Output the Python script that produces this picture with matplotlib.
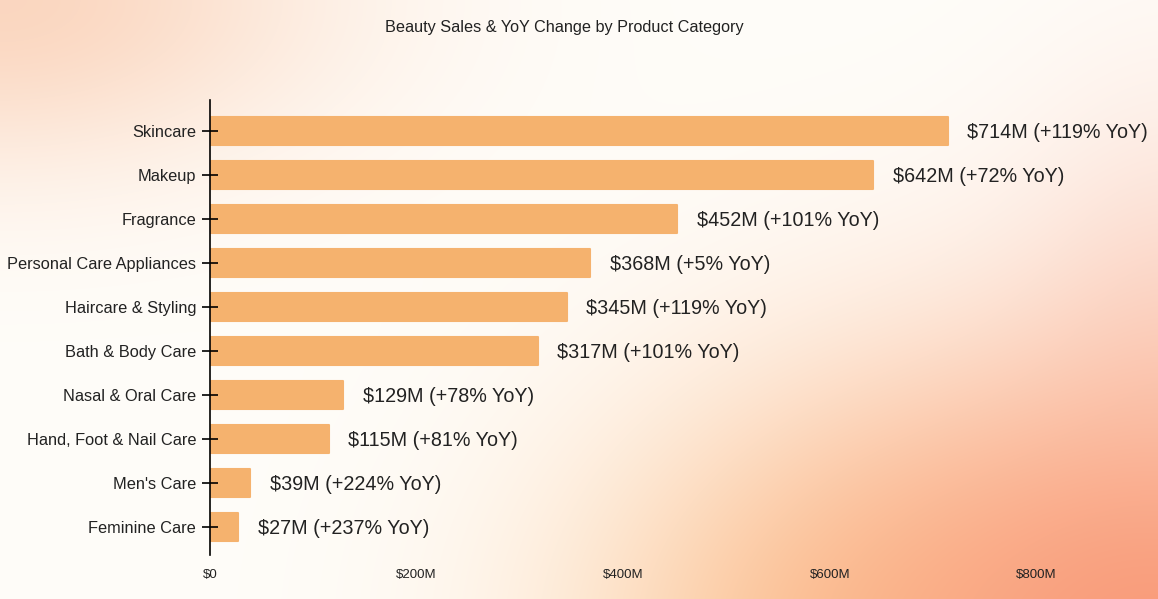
import numpy as np
import matplotlib.pyplot as plt

categories = ["Skincare", "Makeup", "Fragrance", "Personal Care Appliances",
              "Haircare & Styling", "Bath & Body Care", "Nasal & Oral Care",
              "Hand, Foot & Nail Care", "Men's Care", "Feminine Care"]
sales = [714, 642, 452, 368, 345, 317, 129, 115, 39, 27]   # $M
yoy = [119, 72, 101, 5, 119, 101, 78, 81, 224, 237]        # % change
xticks = [0, 200, 400, 600, 800]
xtick_labels = ["$0", "$200M", "$400M", "$600M", "$800M"]

plt.rcParams['font.family'] = ['Liberation Sans', 'DejaVu Sans']

W, H = 1158, 599
fig = plt.figure(figsize=(W / 100, H / 100), dpi=100)

# soft gradient background
yy, xx = np.mgrid[0:H, 0:W].astype(float)
bg = np.ones((H, W, 3)) * np.array([255, 253, 249]) / 255.0
blobs = [((0, 0), (230, 120), (250, 208, 182), 0.85),
         ((1180, 330), (110, 170), (250, 208, 194), 0.55),
         ((880, 640), (210, 170), (252, 207, 152), 0.9),
         ((1158, 640), (260, 200), (249, 152, 118), 0.95)]
for (cx, cy), (sx, sy), col, s in blobs:
    a = s * np.exp(-(((xx - cx) / sx) ** 2 + ((yy - cy) / sy) ** 2) / 2)
    bg = bg * (1 - a[..., None]) + (np.array(col) / 255.0) * a[..., None]
bgax = fig.add_axes([0, 0, 1, 1], zorder=-1)
bgax.imshow(bg, aspect='auto', extent=[0, 1, 0, 1])
bgax.axis('off')

ax = fig.add_axes([210 / W, 1 - 555 / H, 930 / W, 455 / H])
ax.patch.set_alpha(0)
y = np.arange(len(categories))
ax.barh(y, sales, height=0.63, color='#f5b26e', edgecolor='#f5b26e',
        linewidth=1.5, joinstyle='round')
for yi, s, g in zip(y, sales, yoy):
    ax.text(s + 19, yi, f"${s}M (+{g}% YoY)", va='center_baseline', ha='left',
            fontsize=14.2, color='#222222')

ax.set_yticks(y)
ax.set_yticklabels(categories, fontsize=11.8, color='#222222')
ax.set_ylim(len(categories) - 0.36, -0.7)
ax.set_xlim(0, 900)
ax.set_xticks(xticks)
ax.set_xticklabels(xtick_labels, fontsize=9.5, color='#222222')
ax.tick_params(axis='x', length=0, pad=10)
ax.tick_params(axis='y', direction='inout', length=12, width=1.2, pad=4)
for side in ['top', 'right', 'bottom']:
    ax.spines[side].set_visible(False)
ax.spines['left'].set_linewidth(1.2)

fig.text(564 / W, 1 - 26 / H, "Beauty Sales & YoY Change by Product Category",
         ha='center', va='center_baseline', fontsize=11.7, color='#222222')

fig.savefig("out.png", dpi=100)
